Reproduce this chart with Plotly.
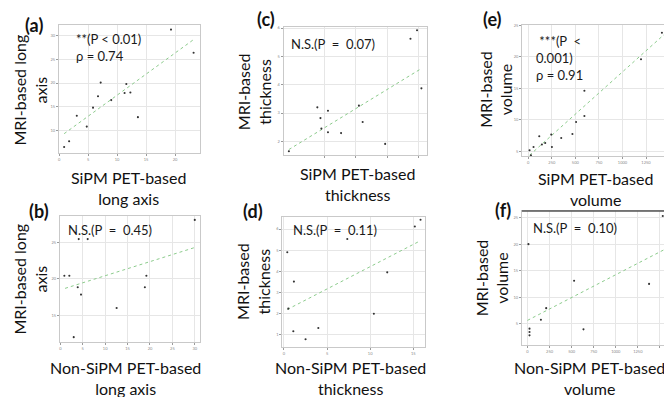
import plotly.graph_objects as go

W, H = 664, 397

# ---------------- data ----------------
# (a) SiPM PET-based long axis vs MRI-based long axis
a_x = [0.88, 1.74, 3.06, 4.78, 5.86, 6.72, 7.18, 9.0, 11.3, 11.6, 12.3, 13.6, 19.3, 23.2]
a_y = [6.49, 7.69, 13.1, 10.8, 14.8, 17.2, 20.1, 16.4, 17.9, 19.8, 18.0, 12.8, 31.3, 26.4]
a_fit_x = [0.88, 23.2]
a_fit_y = [9.3, 29.2]
a_xticks = [0, 5, 10, 15, 20, 25]
a_yticks = [10, 15, 20, 25, 30]

# (c) SiPM PET-based thickness vs MRI-based thickness
c_x = [1.86, 2.77, 2.87, 2.90, 3.11, 3.11, 3.53, 4.10, 4.22, 4.94, 5.75, 5.96, 6.10]
c_y = [1.65, 3.20, 2.82, 2.45, 3.08, 2.32, 2.29, 3.26, 2.68, 1.91, 5.62, 5.92, 3.87]
c_fit_x = [1.86, 6.10]
c_fit_y = [1.71, 4.57]
c_xticks = [3, 4, 5, 6]
c_yticks = [2, 3, 4, 5, 6]

# (e) SiPM PET-based volume vs MRI-based volume
e_x = [14, 29, 56, 117, 145, 180, 244, 251, 350, 469, 508, 596, 596, 1197, 1419]
e_y = [5.16, 4.37, 5.68, 7.37, 6.06, 6.3, 7.64, 5.68, 7.1, 7.73, 9.63, 10.6, 14.6, 19.6, 23.8]
e_fit_x = [14, 1441]
e_fit_y = [4.37, 23.5]
e_xticks = [0, 250, 500, 750, 1000, 1250]
e_yticks = [5, 10, 15, 20, 25]

# (b) Non-SiPM PET-based long axis vs MRI-based long axis
b_x = [0.89, 2.0, 2.98, 3.88, 4.1, 4.61, 6.1, 12.56, 18.86, 19.2, 30.0]
b_y = [20.45, 20.45, 11.97, 18.85, 25.5, 17.84, 25.5, 16.0, 18.85, 20.45, 28.15]
b_fit_x = [1.05, 29.8]
b_fit_y = [18.7, 24.3]
b_xticks = [0, 5, 10, 15, 20, 25, 30]
b_yticks = [15, 20, 25]

# (d) Non-SiPM PET-based thickness vs MRI-based thickness
d_x = [0.39, 0.51, 1.09, 1.16, 2.51, 3.99, 7.35, 10.43, 11.98, 15.18, 15.84]
d_y = [4.90, 2.23, 1.16, 3.51, 0.78, 1.31, 5.53, 1.99, 3.95, 6.12, 6.44]
d_fit_x = [0.39, 15.84]
d_fit_y = [2.19, 5.45]
d_xticks = [0, 5, 10, 15]
d_yticks = [1, 2, 3, 4, 5, 6]

# (f) Non-SiPM PET-based volume vs MRI-based volume
f_x = [11, 23, 23, 23, 152, 212, 528, 634, 1377, 1532]
f_y = [20.0, 4.06, 3.43, 2.8, 5.75, 7.93, 13.1, 3.93, 12.5, 25.3]
f_fit_x = [0, 1546]
f_fit_y = [5.62, 18.94]
f_xticks = [0, 250, 500, 750, 1000, 1250, 1500]
f_yticks = [5, 10, 15, 20, 25]

labels = ["(a)", "(c)", "(e)", "(b)", "(d)", "(f)"]
stats = ["**(P < 0.01)<br>ρ = 0.74", "N.S.(P  =  0.07)", "\u00a0***(P  <<br>0.001)<br>ρ = 0.91",
         "N.S.(P  =  0.45)", "N.S.(P  =  0.11)", "N.S.(P  =  0.10)"]
ytitles = ["MRI-based long<br>axis", "MRI-based<br>thickness", "MRI-based<br>volume",
           "MRI-based long<br>axis", "MRI-based<br>thickness", "MRI-based<br>volume"]
xtitles = ["SiPM PET-based<br>long axis", "SiPM PET-based<br>thickness", "SiPM PET-based<br>volume",
           "Non-SiPM PET-based<br>long axis", "Non-SiPM PET-based<br>thickness", "Non-SiPM PET-based<br>volume"]

# ---------------- layout helpers ----------------
def px(x):
    return x / W

def py(y):
    return 1 - y / H

FONT = "Lato, Calibri, Carlito, Arial, sans-serif"

panels = [
    dict(x=a_x, y=a_y, fx=a_fit_x, fy=a_fit_y, xt=a_xticks, yt=a_yticks, xr=[-0.02, 24.25], yr=[5.17, 32.3],
         box=(58, 199, 23, 152), lab=(33, 23), stat=(73, 27), yt_pos=(29, 88), xt_pos=(128, 187), mirror_y=True,
         showx=True),
    dict(x=c_x, y=c_y, fx=c_fit_x, fy=c_fit_y, xt=c_xticks, yt=c_yticks, xr=[1.69, 6.29], yr=[1.51, 6.04],
         box=(283, 427, 25, 154), lab=(265, 17), stat=(288, 32), yt_pos=(253, 90), xt_pos=(357, 183), mirror_y=True,
         showx=False),
    dict(x=e_x, y=e_y, fx=e_fit_x, fy=e_fit_y, xt=e_xticks, yt=e_yticks, xr=[-64, 1441], yr=[4.21, 25.05],
         box=(522, 664, 23, 155), lab=(492, 17), stat=(534, 29), yt_pos=(495, 88), xt_pos=(595, 187.5), mirror_y=False,
         showx=True),
    dict(x=b_x, y=b_y, fx=b_fit_x, fy=b_fit_y, xt=b_xticks, yt=b_yticks, xr=[-0.1, 31.1], yr=[11.3, 28.7],
         box=(59, 199, 215, 341.7), lab=(38.5, 210), stat=(65, 219), yt_pos=(29.5, 278.5), xt_pos=(124.3, 378),
         mirror_y=True, showx=True),
    dict(x=d_x, y=d_y, fx=d_fit_x, fy=d_fit_y, xt=d_xticks, yt=d_yticks, xr=[-0.19, 16.4], yr=[0.415, 6.59],
         box=(281.7, 425, 215.7, 346.7), lab=(252.5, 210.5), stat=(290, 219), yt_pos=(251.7, 281), xt_pos=(350, 377.5),
         mirror_y=True, showx=True),
    dict(x=f_x, y=f_y, fx=f_fit_x, fy=f_fit_y, xt=f_xticks, yt=f_yticks, xr=[-63, 1546], yr=[0.93, 26.26],
         box=(521.7, 664, 210, 345), lab=(503, 209), stat=(530.7, 217), yt_pos=(491.7, 276.7), xt_pos=(589, 378),
         mirror_y=False, showx=True),
]

fig = go.Figure()
annotations = []
layout = {}

for i, p in enumerate(panels):
    n = "" if i == 0 else str(i + 1)
    xa, ya = "x" + n, "y" + n
    fig.add_trace(go.Scatter(x=p["fx"], y=p["fy"], mode="lines", xaxis=xa, yaxis=ya,
                             line=dict(color="#8ccb8c", width=1, dash="dot"), showlegend=False,
                             hoverinfo="skip"))
    fig.add_trace(go.Scatter(x=p["x"], y=p["y"], mode="markers", xaxis=xa, yaxis=ya,
                             marker=dict(size=2.1, color="#333333"), showlegend=False))
    x0, x1, y0, y1 = p["box"]
    common = dict(showgrid=True, gridcolor="#e6e6e6", gridwidth=1, zeroline=False,
                  showline=True, linecolor="#c9c9c9", linewidth=1,
                  ticks="outside", ticklen=2, tickcolor="#9a9a9a", tickwidth=1,
                  tickfont=dict(size=4, color="#8a8a8a", family=FONT))
    layout["xaxis" + n] = dict(domain=[px(x0), px(x1)], range=p["xr"], anchor=ya, tickvals=p["xt"],
                               mirror=True, showticklabels=p["showx"], **common)
    layout["yaxis" + n] = dict(domain=[py(y1), py(y0)], range=p["yr"], anchor=xa, tickvals=p["yt"],
                               mirror=p["mirror_y"], **common)
    # panel label
    annotations.append(dict(text="<b>" + labels[i] + "</b>", x=px(p["lab"][0]), y=py(p["lab"][1]),
                            xref="paper", yref="paper", xanchor="center", yanchor="middle",
                            showarrow=False, font=dict(size=18, color="#111111", family=FONT)))
    # statistics
    annotations.append(dict(text=stats[i], x=px(p["stat"][0]), y=py(p["stat"][1]),
                            xref="paper", yref="paper", xanchor="left", yanchor="top", align="left",
                            showarrow=False, font=dict(size=13, color="#1a1a1a", family=FONT)))
    # y title
    annotations.append(dict(text=ytitles[i], x=px(p["yt_pos"][0]), y=py(p["yt_pos"][1]),
                            xref="paper", yref="paper", xanchor="center", yanchor="middle", textangle=-90,
                            showarrow=False, font=dict(size=16, color="#111111", family=FONT)))
    # x title
    annotations.append(dict(text=xtitles[i], x=px(p["xt_pos"][0]), y=py(p["xt_pos"][1]),
                            xref="paper", yref="paper", xanchor="center", yanchor="middle",
                            showarrow=False, font=dict(size=16, color="#111111", family=FONT)))

layout.update(dict(
    width=W, height=H, margin=dict(l=0, r=0, t=0, b=0),
    paper_bgcolor="white", plot_bgcolor="white",
    annotations=annotations,
    shapes=[dict(type="line", xref="paper", yref="paper", x0=px(521.7), x1=1.0, y0=py(210), y1=py(210),
                 line=dict(color="#555555", width=1.5))],
    font=dict(family=FONT),
))
fig.update_layout(**layout)
fig.write_html("out.html")
